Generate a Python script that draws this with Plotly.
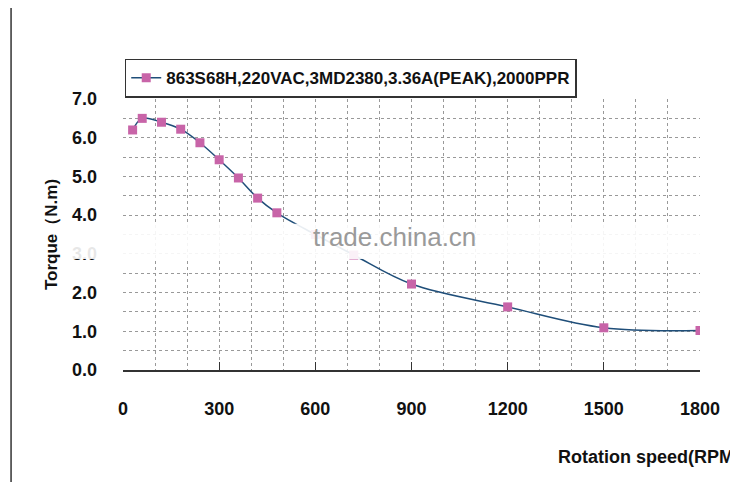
import plotly.graph_objects as go

speed = [30, 60, 120, 180, 240, 300, 360, 420, 480, 600, 720, 900, 1200, 1500, 1800]
torque = [6.2, 6.5, 6.4, 6.22, 5.87, 5.43, 4.96, 4.44, 4.06, 3.5, 2.97, 2.22, 1.63, 1.09, 1.02]
xticks = [0, 300, 600, 900, 1200, 1500, 1800]
yticks = [0, 1, 2, 3, 4, 5, 6, 7]
ylabels = ["0.0", "1.0", "2.0", "3.0", "4.0", "5.0", "6.0", "7.0"]
series_name = "863S68H,220VAC,3MD2380,3.36A(PEAK),2000PPR"

bold = dict(family="Liberation Sans", size=18, color="#111111")
grid = "#999999"

fig = go.Figure()
fig.add_trace(go.Scatter(
    x=speed, y=torque, mode="lines+markers", name=f"<b>{series_name}</b>",
    line=dict(color="#1f4e79", width=1.5, shape="spline"),
    marker=dict(symbol="square", size=9, color="#c864a8"),
))
fig.update_layout(
    width=738, height=482, paper_bgcolor="white", plot_bgcolor="white",
    margin=dict(l=115, r=46, t=91, b=120, autoexpand=False),
    showlegend=True,
    legend=dict(x=0.003, y=1.005, xanchor="left", yanchor="bottom",
                bordercolor="#333", borderwidth=1.5, bgcolor="white",
                font=dict(family="Liberation Sans", size=17, color="#111"),
                itemwidth=30),
    xaxis=dict(range=[0, 1800], tickvals=xticks, ticktext=[f"<b>{v}</b>" for v in xticks],
               tickfont=bold, showgrid=True, gridcolor=grid, griddash="dot", gridwidth=1,
               minor=dict(dtick=100, tick0=0, showgrid=True, gridcolor=grid, griddash="dot"),
               showline=True, linecolor="#333", linewidth=1.5, automargin=False,
               ticks="inside", ticklen=8, tickcolor="#333", ticklabelstandoff=22,
               zeroline=False),
    yaxis=dict(range=[0, 7], tickvals=yticks, ticktext=[f"<b>{v}</b>" for v in ylabels],
               tickfont=bold, showgrid=True, gridcolor=grid, griddash="dot",
               minor=dict(dtick=0.5, tick0=0, showgrid=True, gridcolor=grid, griddash="dot"),
               showline=False, zeroline=False, ticklabelstandoff=25, automargin=False,
               title=dict(text="<b>Torque（N.m)</b>", font=dict(family="Liberation Sans", size=17, color="#111"), standoff=10)),
)
fig.add_annotation(text="<b>Rotation speed(RPM)</b>", xref="paper", yref="paper",
                   x=1.072, y=-0.32, xanchor="right", yanchor="middle", showarrow=False, font=bold)
# watermark band
fig.add_shape(type="rect", xref="paper", yref="paper", x0=-0.25, x1=1.1, y0=0.41, y1=0.54,
              fillcolor="rgba(255,255,255,0.9)", line=dict(width=0), layer="above")
fig.add_annotation(text="trade.china.cn", xref="paper", yref="paper", x=0.47, y=0.49,
                   showarrow=False, font=dict(family="Liberation Sans", size=26, color="#9a9a9a"))
fig.add_shape(type="line", xref="paper", yref="paper", x0=-0.194, x1=-0.194, y0=-0.6, y1=1.4,
              line=dict(color="#333", width=1.5))
fig.write_html("out.html")
